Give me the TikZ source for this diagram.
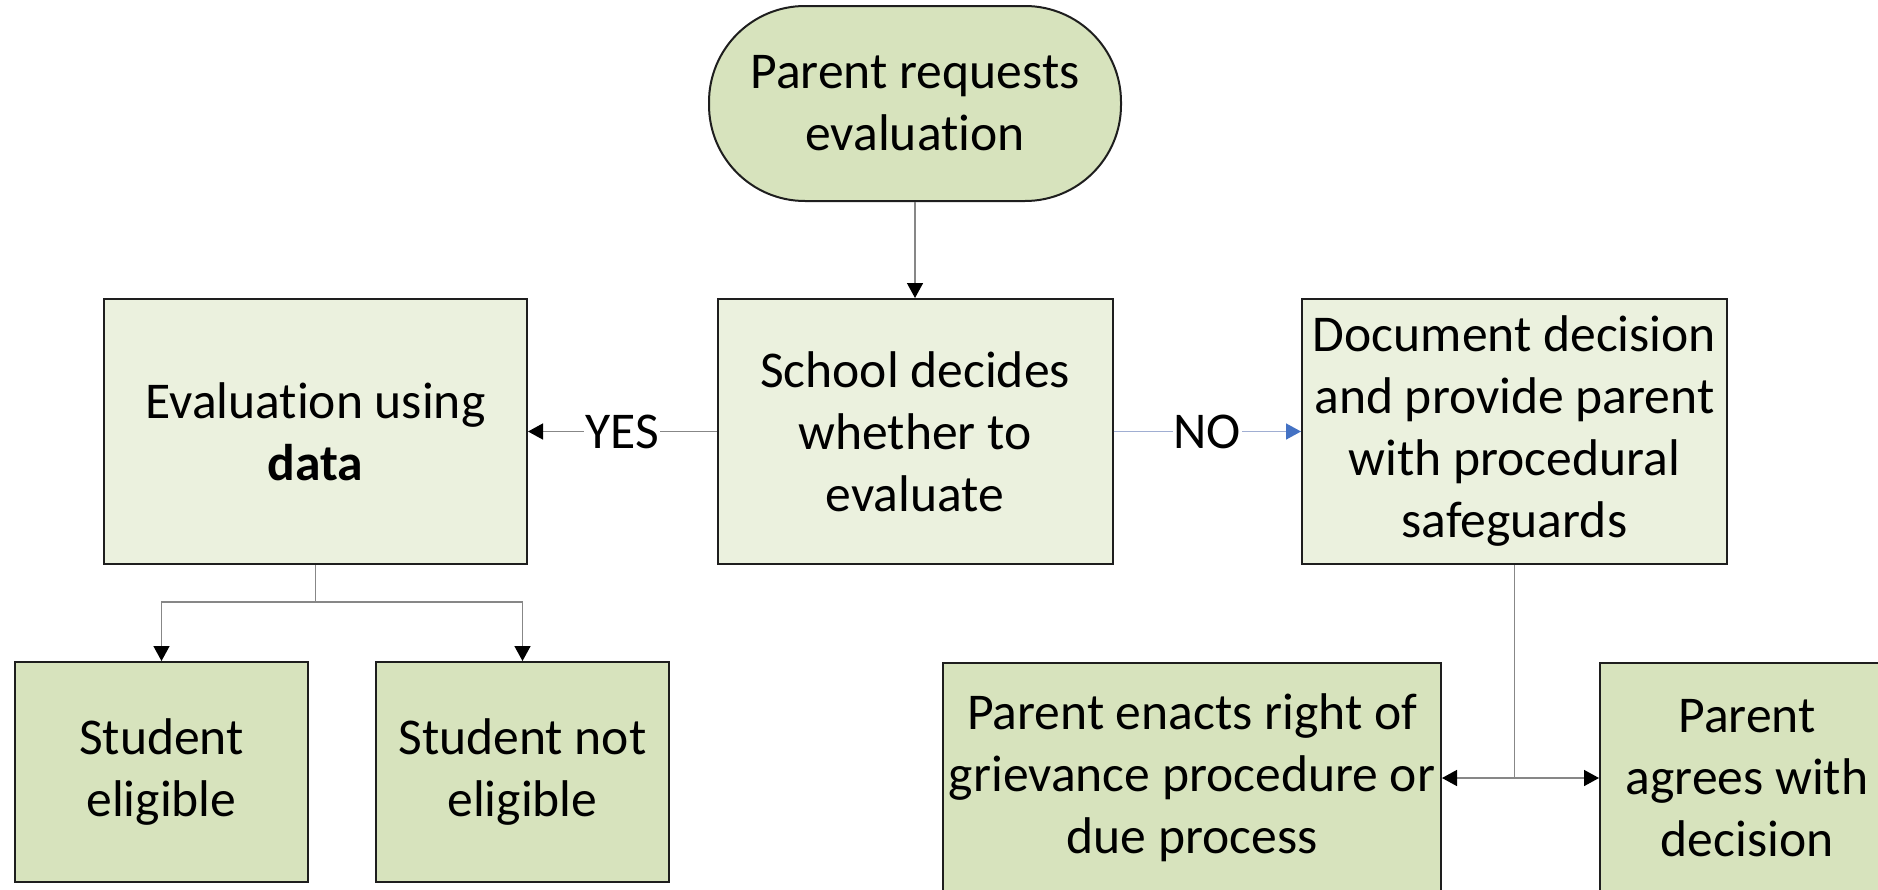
\documentclass[tikz,border=0pt]{standalone}
\usepackage{fontspec}
\setmainfont{Carlito}[Ligatures=NoCommon]
\usepackage{xcolor}
\usetikzlibrary{arrows.meta,positioning}
\definecolor{olivepale}{RGB}{235,241,222}
\definecolor{olivesoft}{RGB}{215,227,189}
\definecolor{boxedge}{RGB}{30,30,30}
\definecolor{linegray}{RGB}{135,135,135}
\definecolor{lineblue}{RGB}{160,174,210}
\definecolor{tipblue}{RGB}{68,114,196}

\begin{document}
\begin{tikzpicture}[x=0.5pt,y=-0.5pt,
  box/.style={draw=boxedge, line width=1pt, align=center, inner sep=0pt, font=\fontsize{25.8}{31}\selectfont},
  link/.style={draw=linegray, line width=0.75pt, -{Triangle[width=8pt,length=7.5pt,color=black]}},
  tag/.style={fill=white, inner sep=0.5pt, font=\fontsize{25.8}{31}\selectfont}]
  \clip (0,0) rectangle (1878,889);
  \fill[white] (0,0) rectangle (1878,889);
  \node[box, fill=olivesoft, rounded corners=48pt, minimum width=206pt, minimum height=97.5pt] (request) at (915,103.5) {Parent requests\\evaluation};
  \foreach \name/\x/\w/\txt in {evaluation/315.5/211.5/{Evaluation using\\\textbf{data}}, school/915/197.5/{School decides\\whether to\\evaluate}, document/1514.5/212.5/{Document decision\\and provide parent\\with procedural\\safeguards}} {
    \node[box, fill=olivepale, minimum width=\w pt, minimum height=132.5pt] (\name) at (\x,431.5) {\txt};
  }
  \foreach \name/\x/\txt in {eligible/161.5/{Student\\eligible}, noteligible/522.5/{Student not\\eligible}} {
    \node[box, fill=olivesoft, minimum width=146.5pt, minimum height=110pt] (\name) at (\x,772) {\txt};
  }
  \node[box, fill=olivesoft, minimum width=249pt, minimum height=115pt] (grievance) at (1192,778) {Parent enacts right of\\grievance procedure or\\due process};
  \node[box, fill=olivesoft, minimum width=147pt, minimum height=115pt] (agrees) at (1747,778) {Parent\\agrees with\\decision};

  \draw[link] (request) -- (school);
  \draw[link] (school) -- node[tag] {YES} (evaluation);
  \draw[link, draw=lineblue, -{Triangle[width=8pt,length=7.5pt,color=tipblue]}] (school) -- node[tag] {NO} (document);
  \coordinate (evalfork) at ([yshift=-18.5pt]evaluation.south);
  \draw[link] (evaluation.south) -- (evalfork) -| (eligible.north);
  \draw[link] (evalfork) -| (noteligible.north);
  \coordinate (docfork) at (document.south |- grievance.east);
  \draw[link] (document.south) -- (docfork) -- (grievance.east);
  \draw[link] (docfork) -- (agrees.west);
\end{tikzpicture}
\end{document}
